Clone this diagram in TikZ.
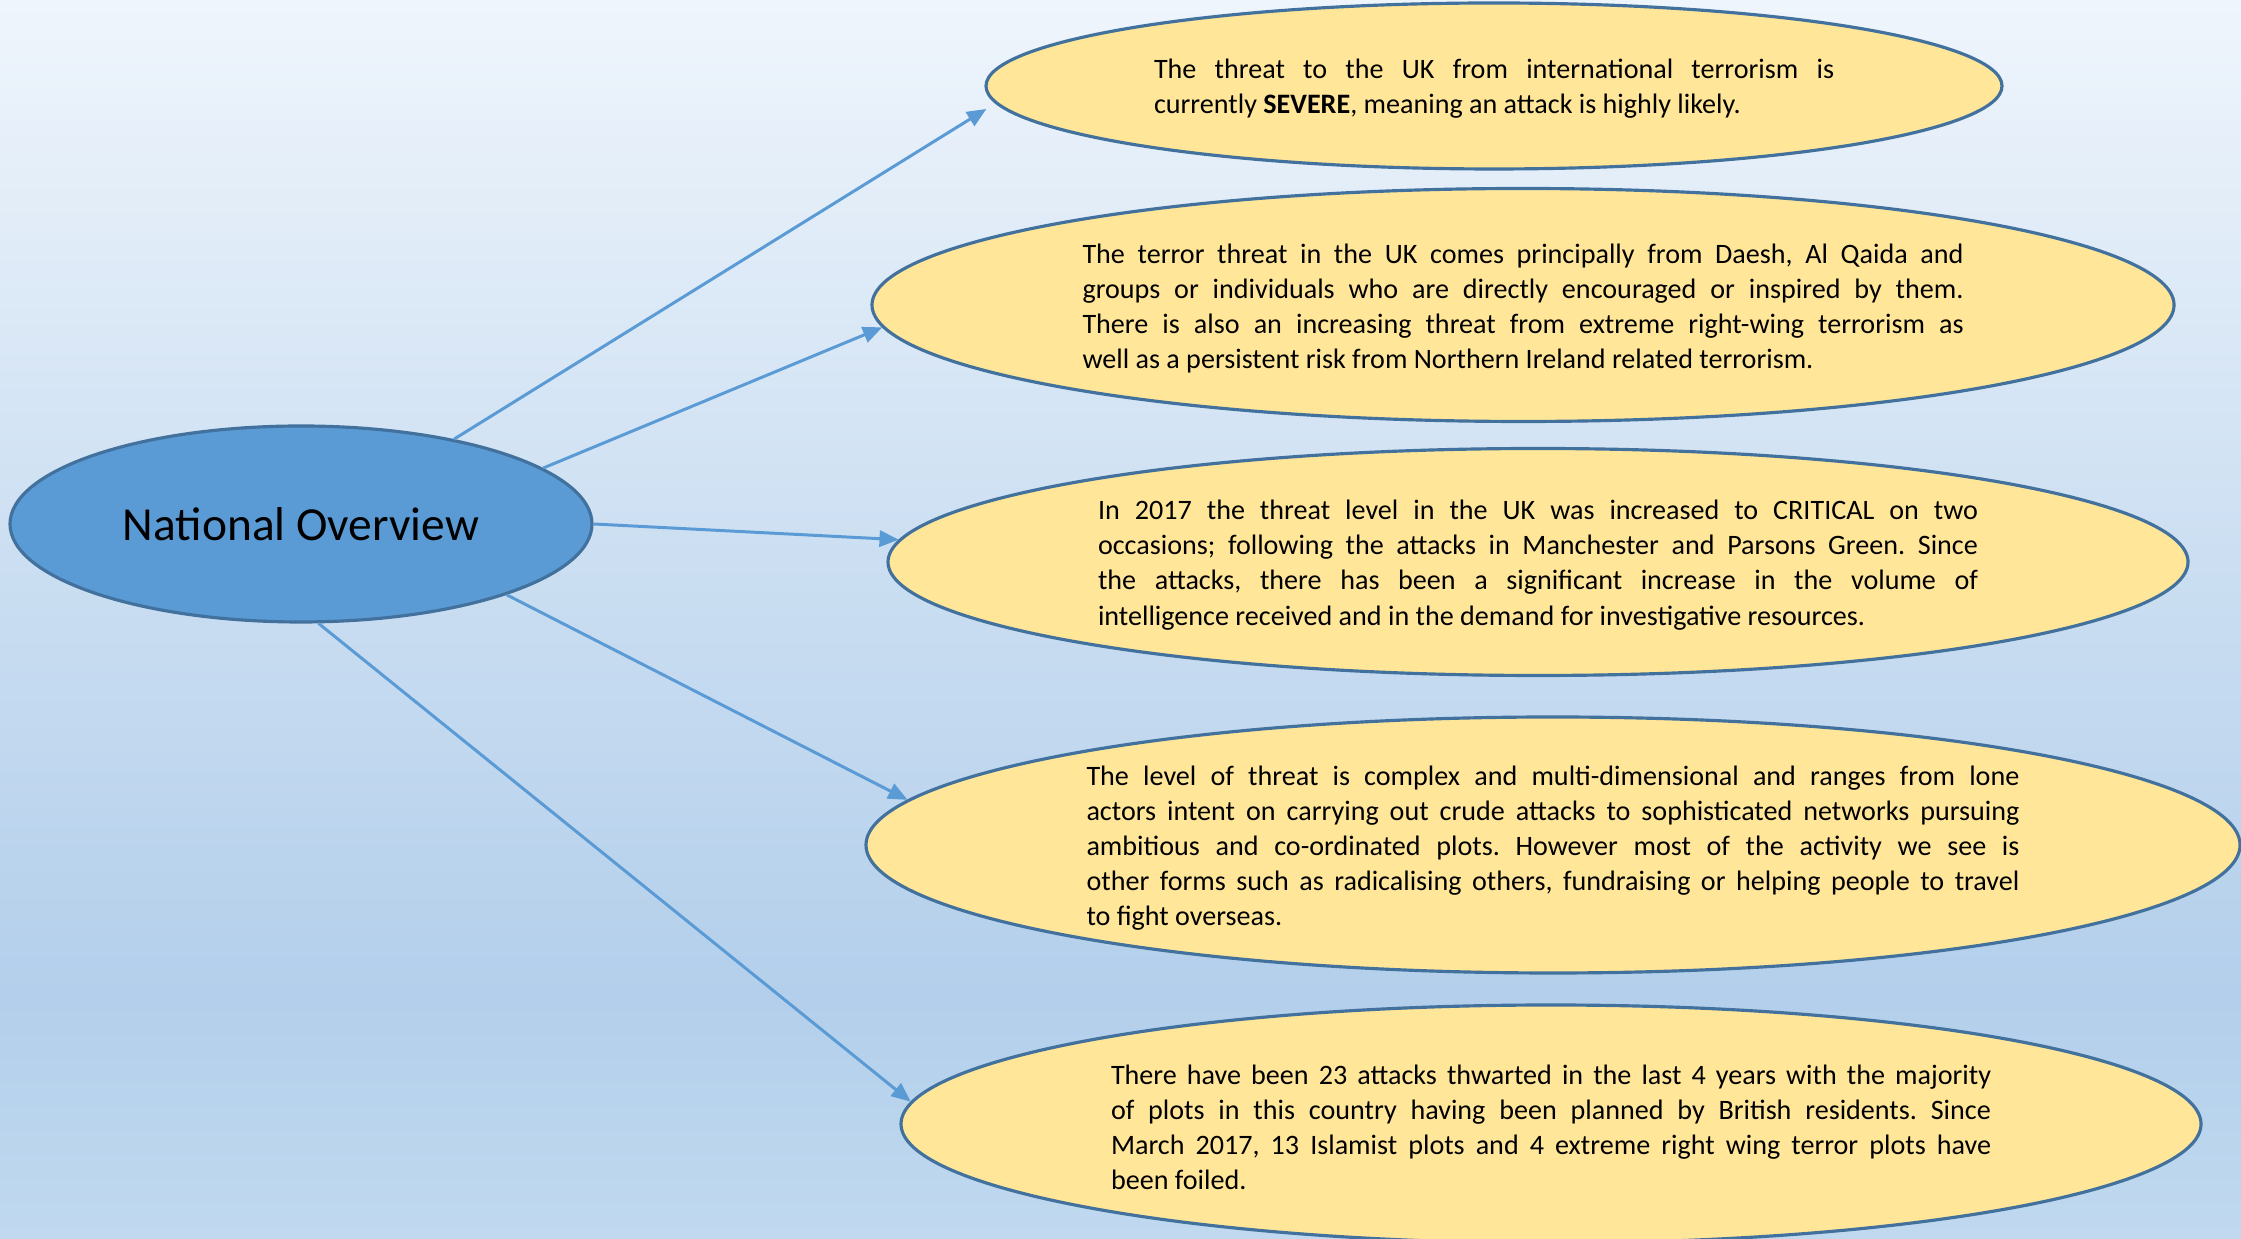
\documentclass[tikz,border=0pt]{standalone}
\usepackage{fontspec}
\setmainfont{Carlito}
\usetikzlibrary{shapes.geometric,arrows.meta}
\definecolor{bgtop}{HTML}{EFF5FC}
\definecolor{bgmidA}{HTML}{C9DDF1}
\definecolor{bgmidB}{HTML}{B3CFEB}
\definecolor{bgbot}{HTML}{C0D9EF}
\definecolor{hubblue}{HTML}{5B9BD5}
\definecolor{edgeblue}{HTML}{41719C}
\definecolor{arrowblue}{HTML}{5B9BD5}
\definecolor{gold}{HTML}{FFE699}
\pgfdeclareverticalshading{bgshade}{100bp}{color(0bp)=(bgbot); color(25bp)=(bgbot); color(34.7bp)=(bgmidB); color(50.8bp)=(bgmidA); color(75bp)=(bgtop); color(100bp)=(bgtop)}
\frenchspacing
\newcommand{\jline}[1]{\hbox to\linewidth{\spaceskip=0.226em plus 3em minus 0.14em #1}}
\newcommand{\lline}[1]{\hbox to\linewidth{#1\hfil}}
\newcommand{\bubtext}[2]{\parbox{#1}{\fontsize{8.0}{9.96}\selectfont #2}}
\tikzset{
  bubble/.style={ellipse, draw=edgeblue, line width=0.9pt, fill=gold, inner sep=0pt, text=black},
  bubtxt/.style={inner sep=0pt, text=black, yshift=-0.9pt},
  hub/.style={ellipse, draw=edgeblue, line width=0.9pt, fill=hubblue, inner sep=0pt, text=black},
  conn/.style={draw=arrowblue, line width=0.85pt, -{Triangle[length=5.5pt,width=4.6pt]}}
}
\begin{document}
\begin{tikzpicture}
\useasboundingbox (0,0) rectangle (22.41,12.39);
\clip (0,0) rectangle (22.41,12.39);
\fill[shading=bgshade] (0,0) rectangle (22.41,12.39);

\node[hub, minimum width=5.82cm, minimum height=1.96cm] (hub) at (3.01,7.15)
  {\fontsize{13.5}{16}\selectfont National Overview};

\node[bubble, minimum width=10.16cm, minimum height=1.66cm] (e1) at (14.94,11.53) {};
\node[bubtxt] (t1) at (e1.center)
  {\bubtext{6.8cm}{%
   \jline{The threat to the UK from international terrorism is}
   \lline{currently \textbf{SEVERE}, meaning an attack is highly likely.}}};

\node[bubble, minimum width=13.02cm, minimum height=2.33cm] (e2) at (15.23,9.34) {};
\node[bubtxt] (t2) at (e2.center)
  {\bubtext{8.81cm}{%
   \jline{The terror threat in the UK comes principally from Daesh, Al Qaida and}
   \jline{groups or individuals who are directly encouraged or inspired by them.}
   \jline{There is also an increasing threat from extreme right-wing terrorism as}
   \lline{well as a persistent risk from Northern Ireland related terrorism.}}};

\node[bubble, minimum width=13.0cm, minimum height=2.27cm] (e3) at (15.38,6.77) {};
\node[bubtxt] (t3) at (e3.center)
  {\bubtext{8.8cm}{%
   \jline{In 2017 the threat level in the UK was increased to CRITICAL on two}
   \jline{occasions; following the attacks in Manchester and Parsons Green. Since}
   \jline{the attacks, there has been a significant increase in the volume of}
   \lline{intelligence received and in the demand for investigative resources.}}};

\node[bubble, minimum width=13.74cm, minimum height=2.56cm] (e4) at (15.53,3.94) {};
\node[bubtxt] (t4) at (e4.center)
  {\bubtext{9.33cm}{%
   \jline{The level of threat is complex and multi-dimensional and ranges from lone}
   \jline{actors intent on carrying out crude attacks to sophisticated networks pursuing}
   \jline{ambitious and co-ordinated plots. However most of the activity we see is}
   \jline{other forms such as radicalising others, fundraising or helping people to travel}
   \lline{to fight overseas.}}};

\node[bubble, minimum width=13.0cm, minimum height=2.38cm] (e5) at (15.51,1.15) {};
\node[bubtxt] (t5) at (e5.center)
  {\bubtext{8.8cm}{%
   \jline{There have been 23 attacks thwarted in the last 4 years with the majority}
   \jline{of plots in this country having been planned by British residents. Since}
   \jline{March 2017, 13 Islamist plots and 4 extreme right wing terror plots have}
   \lline{been foiled.}}};

\draw[conn, shorten >=3pt] (hub.29.7) -- (e1.182.9);
\draw[conn] (hub.13.3) -- (e2.182.3);
\draw[conn] (hub.0) -- (e3.178.2);
\draw[conn] (hub.-19) -- (e4.176.4);
\draw[conn] (hub.-80.8) -- (e5.178.8);
\end{tikzpicture}
\end{document}
